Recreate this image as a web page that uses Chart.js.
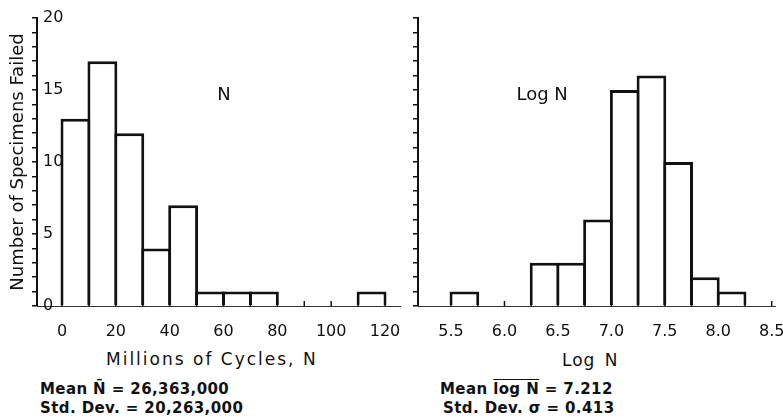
<!DOCTYPE html>
<html>
<head>
<meta charset="utf-8">
<title>Fatigue life histograms</title>
<script src="https://cdn.jsdelivr.net/npm/chart.js@4.4.1/dist/chart.umd.min.js"></script>
<style>
    body { margin: 0; background: #fff; }
    #wrap { position: relative; width: 783px; height: 419px; overflow: hidden; font-family: "DejaVu Sans", sans-serif; color: #111; }
    .panel { position: absolute; top: 0; height: 340px; }
    .txt { position: absolute; white-space: nowrap; line-height: 20px; }
    .axisTitle { font-size: 17px; letter-spacing: 1px; }
    .stat { font-size: 15px; font-weight: bold; letter-spacing: 0.4px; }
</style>
</head>
<body>
<div id="wrap">
    <div class="panel" style="left:0;width:410px"><canvas id="chartN"></canvas></div>
    <div class="panel" style="left:400px;width:383px"><canvas id="chartLog"></canvas></div>

    <div class="txt axisTitle" style="left:106px;top:349px;letter-spacing:2px">Millions of Cycles, N</div>
    <div class="txt axisTitle" style="left:562px;top:350px;word-spacing:3px">Log N</div>

    <div class="txt stat" style="left:40px;top:379px">Mean N&#772; = 26,363,000</div>
    <div class="txt stat" style="left:40px;top:398px">Std. Dev. = 20,263,000</div>
    <div class="txt stat" style="left:440px;top:379px">Mean <span style="text-decoration:overline">log N</span> = 7.212</div>
    <div class="txt stat" style="left:443px;top:398px">Std. Dev. &sigma; = 0.413</div>
</div>

<script>
// Histogram of N (millions of cycles), bins of 10
const nBinStarts = [0, 10, 20, 30, 40, 50, 60, 70, 80, 90, 100, 110];
const nCounts = [13, 17, 12, 4, 7, 1, 1, 1, 0, 0, 0, 1];
const nBinWidth = 10;
const nTicks = [0, 10, 20, 30, 40, 50, 60, 70, 80, 90, 100, 110, 120];

// Histogram of log N, bins of 0.25
const logBinStarts = [5.5, 5.75, 6.0, 6.25, 6.5, 6.75, 7.0, 7.25, 7.5, 7.75, 8.0];
const logCounts = [1, 0, 0, 3, 3, 6, 15, 16, 10, 2, 1];
const logBinWidth = 0.25;
const logTicks = [5.5, 5.75, 6.0, 6.25, 6.5, 6.75, 7.0, 7.25, 7.5, 7.75, 8.0, 8.25, 8.5];

// Shared count axis
const countTicks = [0, 1, 2, 3, 4, 5, 6, 7, 8, 9, 10, 11, 12, 13, 14, 15, 16, 17, 18, 19, 20];

const ink = '#111';
const tickFont = { family: '"DejaVu Sans", sans-serif', size: 16 };

// Small upward marks on the baseline, plus the label inside the panel
const histDecor = {
    id: 'histDecor',
    afterDatasetsDraw(chart, args, opts) {
        const { ctx, chartArea, scales } = chart;
        ctx.save();
        ctx.strokeStyle = ink;
        ctx.lineWidth = 1.5;
        scales.x.ticks.forEach(t => {
            const px = scales.x.getPixelForValue(t.value);
            ctx.beginPath();
            ctx.moveTo(px, chartArea.bottom);
            ctx.lineTo(px, chartArea.bottom - 5);
            ctx.stroke();
        });
        ctx.fillStyle = ink;
        ctx.font = '18px "DejaVu Sans"';
        ctx.textAlign = 'center';
        ctx.textBaseline = 'middle';
        ctx.fillText(opts.text, scales.x.getPixelForValue(opts.x), scales.y.getPixelForValue(opts.y));
        ctx.restore();
    }
};

function makeHistogram(canvasId, starts, counts, binWidth, xTicks, cfg) {
    const ctx = document.getElementById(canvasId).getContext('2d');
    const points = starts.map((s, i) => ({ x: s + binWidth / 2, y: counts[i] }));

    return new Chart(ctx, {
        type: 'bar',
        data: {
            datasets: [{
                data: points,
                backgroundColor: '#fff',
                borderColor: ink,
                borderWidth: 3,
                barPercentage: 1.11, // overlap neighbours so shared edges stay one line thick
                categoryPercentage: 1
            }]
        },
        options: {
            responsive: true,
            maintainAspectRatio: false,
            animation: false,
            layout: { padding: { top: 18, right: cfg.padRight, bottom: 0, left: 0 } },
            plugins: {
                legend: { display: false },
                tooltip: { enabled: false },
                histDecor: cfg.label
            },
            scales: {
                x: {
                    type: 'linear',
                    offset: false,
                    min: cfg.xMin,
                    max: cfg.xMax,
                    afterBuildTicks: s => { s.ticks = xTicks.map(v => ({ value: v })); },
                    afterFit: s => { s.height = 34; s.paddingLeft = 0; s.paddingRight = 0; },
                    grid: { display: false },
                    border: { display: true, color: '#333', width: 1, dash: [2, 1] },
                    ticks: {
                        autoSkip: false,
                        maxRotation: 0,
                        padding: 8,
                        color: ink,
                        font: tickFont,
                        callback: cfg.xLabel
                    }
                },
                y: {
                    min: 0,
                    max: 20,
                    afterBuildTicks: s => { s.ticks = countTicks.map(v => ({ value: v })); },
                    afterFit: s => { s.width = cfg.yWidth; s.paddingTop = 0; s.paddingBottom = 0; },
                    grid: { drawOnChartArea: false, drawTicks: true, tickLength: 5, color: ink, lineWidth: 1.5 },
                    border: { display: true, color: ink, width: 2 },
                    ticks: {
                        autoSkip: false,
                        mirror: true,
                        padding: 6,
                        color: ink,
                        font: tickFont,
                        callback: cfg.yLabel
                    },
                    title: {
                        display: cfg.yTitle !== '',
                        text: cfg.yTitle,
                        color: ink,
                        font: { family: '"DejaVu Sans", sans-serif', size: 18 },
                        padding: { top: 8, bottom: 0 }
                    }
                }
            }
        },
        plugins: [histDecor]
    });
}

document.addEventListener('DOMContentLoaded', () => {
    makeHistogram('chartN', nBinStarts, nCounts, nBinWidth, nTicks, {
        xMin: -9.29, xMax: 125.56, padRight: 10, yWidth: 37,
        xLabel: v => (v % 20 === 0 ? String(v) : ''),
        yLabel: v => (v % 5 === 0 ? String(v) : ''),
        yTitle: 'Number of Specimens Failed',
        label: { text: 'N', x: 60.2, y: 14.65 }
    });

    makeHistogram('chartLog', logBinStarts, logCounts, logBinWidth, logTicks, {
        xMin: 5.191, xMax: 8.531, padRight: 8, yWidth: 18,
        xLabel: v => (Math.abs(v * 2 - Math.round(v * 2)) < 1e-9 ? v.toFixed(1) : ''),
        yLabel: () => '',
        yTitle: '',
        label: { text: 'Log N', x: 6.352, y: 14.6 }
    });
});
</script>
</body>
</html>
